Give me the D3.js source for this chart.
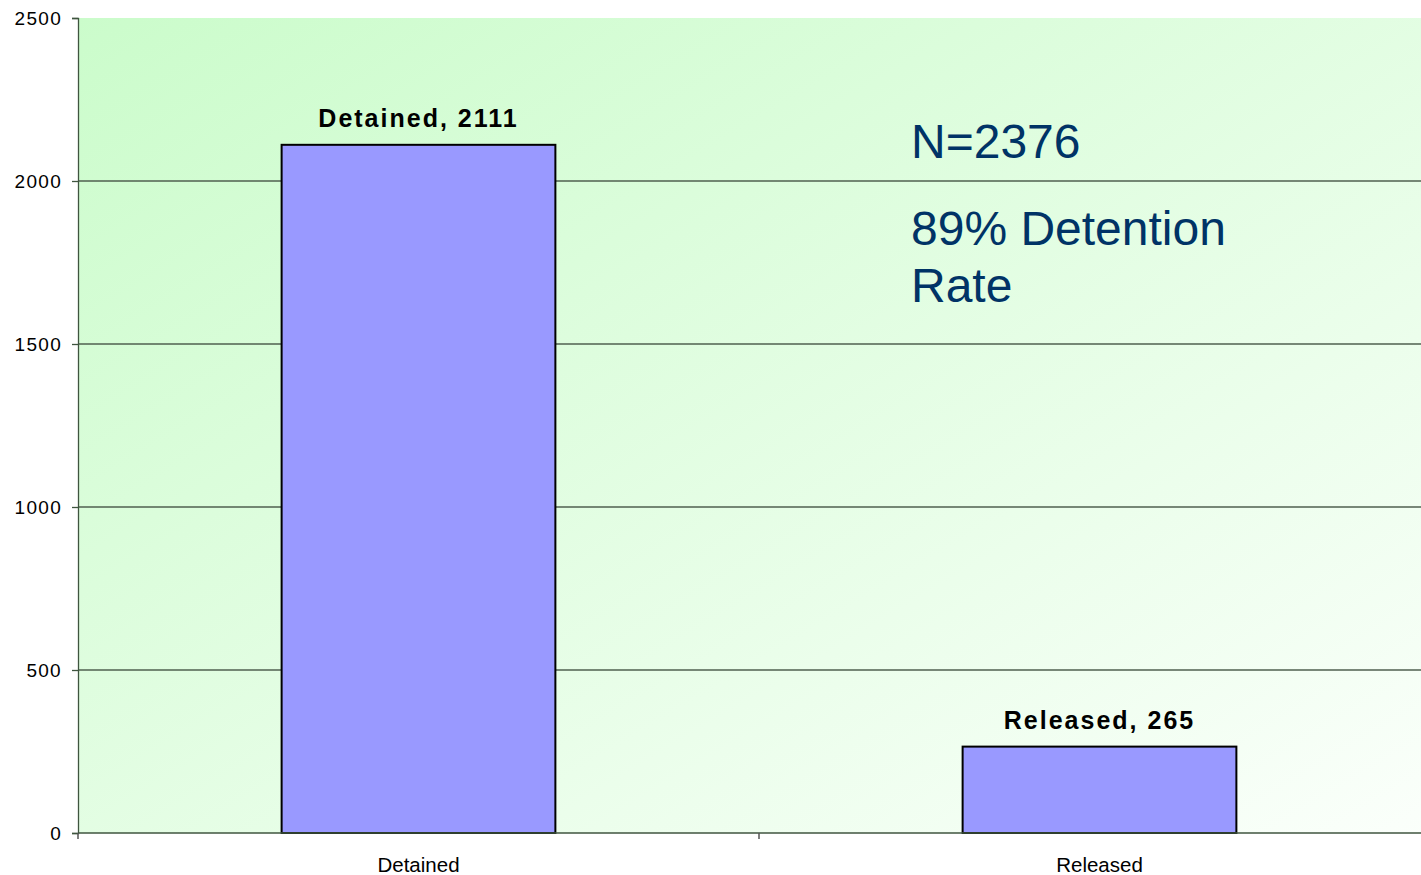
<!DOCTYPE html>
<html><head><meta charset="utf-8">
<script src="https://cdn.jsdelivr.net/npm/d3@7"></script>
<style>body{margin:0;background:#fff}svg{display:block}text{font-family:"Liberation Sans",Arial,sans-serif}</style>
</head><body>
<svg id="c" width="1421" height="875"></svg>
<script>
const categories = ["Detained", "Released"];
const values = [2111, 265];
const yTicks = [0, 500, 1000, 1500, 2000, 2500];
const annotations = ["N=2376", "89% Detention", "Rate"];

(function(){
const svg = d3.select("#c");
const mLeft = 78, mRight = 1440, mTop = 18, mBottom = 833;

const defs = svg.append("defs");
const grad = defs.append("linearGradient").attr("id","bg")
  .attr("x1","0%").attr("y1","0%").attr("x2","100%").attr("y2","100%");
grad.append("stop").attr("offset","0%").attr("stop-color","#cbfccb");
grad.append("stop").attr("offset","100%").attr("stop-color","#fbfffb");

const y = d3.scaleLinear().domain([0, 2500]).range([mBottom, mTop]);
const x = d3.scaleBand().domain(categories).range([mLeft, mRight]).paddingInner(0.598).paddingOuter(0.299);

svg.append("rect").attr("x", mLeft).attr("y", mTop).attr("width", mRight-mLeft).attr("height", mBottom-mTop).attr("fill","url(#bg)");

// gridlines
svg.append("g").selectAll("line").data(yTicks.filter(d=>d>0 && d<2500)).join("line")
  .attr("x1", mLeft).attr("x2", mRight).attr("y1", d=>y(d)).attr("y2", d=>y(d))
  .attr("stroke","#4f5f4f").attr("stroke-width",1.3);

// y axis
const yAxis = svg.append("g").attr("transform",`translate(${mLeft},0)`)
  .call(d3.axisLeft(y).tickValues(yTicks).tickSize(6).tickPadding(10).tickFormat(d3.format("d")));
yAxis.select(".domain").attr("stroke","#3f553f").attr("stroke-width",1.3);
yAxis.selectAll(".tick line").attr("stroke","#3f553f").attr("stroke-width",1.3);
yAxis.selectAll(".tick text").attr("font-size",19).attr("letter-spacing","1.3px").attr("fill","#000")
  .attr("font-family","Liberation Sans, Arial, sans-serif");

// bars
svg.append("g").selectAll("rect").data(values).join("rect")
  .attr("x",(d,i)=>x(categories[i])).attr("width",x.bandwidth())
  .attr("y",d=>y(d)).attr("height",d=>y(0)-y(d))
  .attr("fill","#9999ff").attr("stroke","#000").attr("stroke-width",2);

// x axis
svg.append("line").attr("x1",mLeft).attr("x2",mRight).attr("y1",mBottom).attr("y2",mBottom)
  .attr("stroke","#3f553f").attr("stroke-width",1.5);
const bounds = [mLeft, (x(categories[0])+x.bandwidth()/2 + x(categories[1])+x.bandwidth()/2)/2];
svg.append("g").selectAll("line").data(bounds).join("line")
  .attr("x1",d=>d).attr("x2",d=>d).attr("y1",mBottom).attr("y2",mBottom+6)
  .attr("stroke","#555").attr("stroke-width",1.5);
svg.append("g").selectAll("text").data(categories).join("text")
  .attr("x",d=>x(d)+x.bandwidth()/2).attr("y",872).attr("text-anchor","middle")
  .attr("font-size",20.5).attr("fill","#000").text(d=>d);

// bar labels
svg.append("g").selectAll("text").data(values).join("text")
  .attr("x",(d,i)=>x(categories[i])+x.bandwidth()/2).attr("y",d=>y(d)-18)
  .attr("text-anchor","middle").attr("font-size",25).attr("font-weight","bold")
  .attr("letter-spacing","2px").attr("fill","#000")
  .text((d,i)=>`${categories[i]}, ${d}`);

// annotation
svg.append("g").selectAll("text").data(annotations).join("text")
  .attr("x",911).attr("y",(d,i)=>[158,245,302][i])
  .attr("font-size",48).attr("fill","#003366").text(d=>d);
})();
</script>
</body></html>
